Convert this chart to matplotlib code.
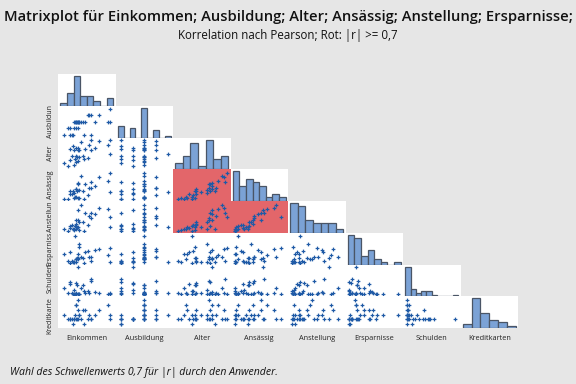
import numpy as np
import matplotlib
matplotlib.use("Agg")
import matplotlib.pyplot as plt

names = ["Einkommen", "Ausbildung", "Alter", "Ansässig", "Anstellung",
         "Ersparnisse", "Schulden", "Kreditkarten"]
# row labels as they appear (cut to the row height) in the reference
row_labels = ["", "Ausbildun", "Alter", "Ansässig", "Anstellun",
              "Ersparniss", "Schulden", "Kreditkarte"]
row_label_shift = [0, 0, 0, 0, 0, 0, -2.5, 3.5]

einkommen = [32, 41, 25, 44, 47, 35, 42, 56, 62, 45, 48, 37, 55, 43, 96, 49,
             41, 66, 46, 34, 58, 44, 73, 47, 39, 64, 92, 52, 78, 67, 95]
ausbildung = [2, 3, 1, 3, 3, 2, 3, 1, 4, 3, 3, 1, 3, 2, 5, 3,
              2, 4, 3, 1, 3, 3, 3, 2, 1, 4, 3, 3, 4, 1, 3]
alter = [22, 24, 26, 27, 28, 29, 31, 31, 32, 33, 33, 34, 34, 34, 37, 41,
         41, 42, 42, 43, 43, 44, 44, 44, 46, 47, 48, 51, 52, 53, 54]
ansaessig = [0.5, 1, 0.5, 1.5, 1, 3, 1.5, 0.5, 2.5, 4.5, 1, 3, 5, 6, 4, 5.5,
             3.5, 6.5, 8.5, 5, 8.5, 6, 7.5, 9, 4.5, 6.5, 10.5, 13, 12.5, 9.5, 14.5]
anstellung = [0.5, 1, 2, 1.5, 3.5, 2.5, 4, 0.5, 5, 3.5, 1, 4.5, 6.5, 5.5, 3.5, 7,
              1.5, 9.5, 8.5, 4, 13, 8, 12.5, 15.5, 2, 11, 16, 19, 17, 13.5, 10.5]
ersparnisse = [3, 1, 12, 6, 12, 16, 38, 0.5, 17, 7, 22, 3.5, 7, 2, 1.5, 27,
               1, 8, 5.5, 0.5, 16, 6, 18, 6.5, 1.5, 9, 11, 8.5, 19, 3, 21]
schulden = [1.0, 0.5, 4.5, 1.5, 0.5, 7.5, 0.5, 2.5, 3, 6.5, 0.5, 1.5, 7, 8.5, 1, 0.5,
            3.5, 9.5, 0.5, 9, 1, 0.5, 2, 19, 0.5, 1.5, 0.5, 5, 1, 11, 0.5]
kreditkarten = [2, 2, 3, 5, 4, 2, 3, 1, 2, 2, 3, 2, 4, 2, 3, 3,
                2, 2, 6, 2, 4, 5, 3, 2, 1, 3, 5, 2, 4, 2, 2]

data = [einkommen, ausbildung, alter, ansaessig, anstellung,
        ersparnisse, schulden, kreditkarten]

hist_bins = [
    np.arange(20, 101, 10),
    np.arange(0.75, 5.26, 0.5),
    np.arange(20, 56, 5),
    np.arange(0, 17, 2),
    np.arange(0, 22, 3),
    np.arange(0, 41, 5),
    np.arange(0, 21, 2),
    np.arange(0.5, 6.6, 1),
]

title = "Matrixplot für Einkommen; Ausbildung; Alter; Ansässig; Anstellung; Ersparnisse;"
subtitle = "Korrelation nach Pearson; Rot: |r| >= 0,7"
footnote = "Wahl des Schwellenwerts 0,7 für |r| durch den Anwender."
threshold = 0.7

W, H = 576, 384
plt.rcParams["font.family"] = ["Open Sans", "DejaVu Sans"]
fig = plt.figure(figsize=(W / 100, H / 100), dpi=100, facecolor="#e6e6e6")

x0, x1 = 58, 518
y0, y1 = 74, 328
n = len(names)
cw = (x1 - x0) / n
ch = (y1 - y0) / n

lims = []
for e in hist_bins:
    pad = 0.045 * (e[-1] - e[0])
    lims.append((e[0] - pad, e[-1] + pad))

arr = [np.asarray(d, float) for d in data]
point_color = "#1f5aa6"
red = "#e3666a"

for i in range(n):
    for j in range(i + 1):
        left = x0 + j * cw
        top = y0 + i * ch
        ax = fig.add_axes([left / W, 1 - (top + ch) / H, cw / W, ch / H])
        ax.set_xticks([])
        ax.set_yticks([])
        for s in ax.spines.values():
            s.set_visible(False)
        ax.set_xlim(*lims[j])
        if i == j:
            ax.set_facecolor("white")
            counts, _, _ = ax.hist(arr[i], bins=hist_bins[i], color="#7ba2d6",
                                   edgecolor="#4a5566", linewidth=0.9)
            ax.set_ylim(0, counts.max() * 1.07)
        else:
            r = np.corrcoef(arr[j], arr[i])[0, 1]
            ax.set_facecolor(red if abs(r) >= threshold else "white")
            ax.plot(arr[j], arr[i], linestyle="none", marker="P",
                    markersize=2.7, color=point_color, markeredgewidth=0)
            ax.set_ylim(*lims[i])
        if i == n - 1:
            fig.text((left + cw / 2) / W, 1 - 338 / H, names[j], ha="center",
                     va="center", fontsize=5.3, color="#222222")
        if j == 0 and i > 0:
            yc = top + ch / 2 + row_label_shift[i]
            fig.text(50 / W, 1 - yc / H, row_labels[i], rotation=90,
                     ha="center", va="center", fontsize=5.0, color="#222222")

fig.text(0.5, 1 - 17 / H, title, ha="center", va="center", fontsize=10.65,
         fontweight="semibold", color="#111111")
fig.text(0.5, 1 - 35 / H, subtitle, ha="center", va="center", fontsize=8.3,
         color="#111111")
fig.text(10 / W, 1 - 373 / H, footnote, ha="left", va="center", fontsize=7.6,
         style="italic", color="#111111")

fig.savefig("out.png", dpi=100, facecolor=fig.get_facecolor())
